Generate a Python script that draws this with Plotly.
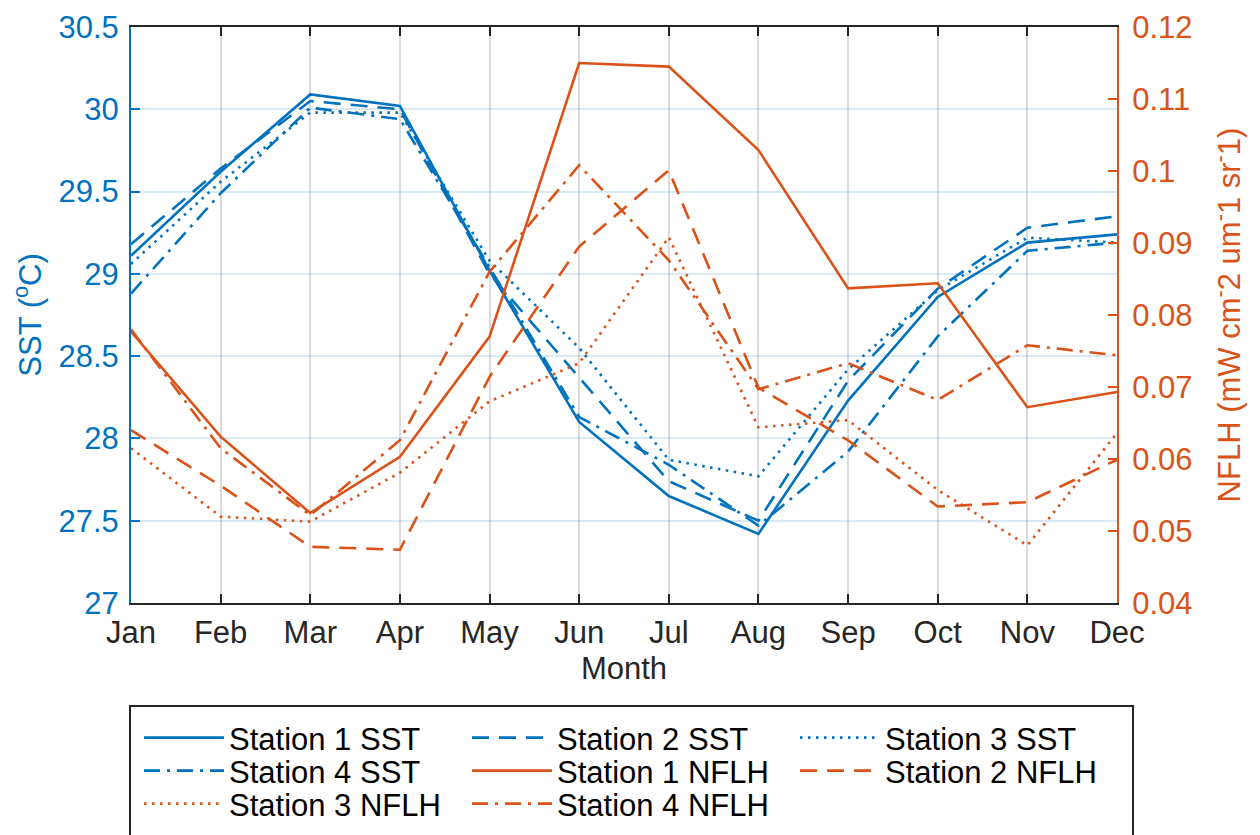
import plotly.graph_objects as go

months = ["Jan", "Feb", "Mar", "Apr", "May", "Jun", "Jul", "Aug", "Sep", "Oct", "Nov", "Dec"]

sst_s1 = [29.11, 29.62, 30.09, 30.02, 29.02, 28.10, 27.65, 27.42, 28.23, 28.86, 29.19, 29.24]
sst_s2 = [29.18, 29.64, 30.05, 30.00, 29.00, 28.37, 27.74, 27.50, 28.35, 28.91, 29.28, 29.35]
sst_s3 = [29.06, 29.56, 29.98, 29.98, 29.08, 28.55, 27.87, 27.77, 28.42, 28.90, 29.22, 29.19]
sst_s4 = [28.88, 29.49, 30.01, 29.94, 29.04, 28.13, 27.84, 27.47, 27.92, 28.62, 29.14, 29.19]

nflh_s1 = [0.0777, 0.0631, 0.0525, 0.0603, 0.0770, 0.1150, 0.1145, 0.1029, 0.0837, 0.0844, 0.0672, 0.0693]
nflh_s2 = [0.0640, 0.0563, 0.0478, 0.0474, 0.0714, 0.0895, 0.1001, 0.0699, 0.0626, 0.0534, 0.0540, 0.0599]
nflh_s3 = [0.0615, 0.0520, 0.0513, 0.0581, 0.0680, 0.0733, 0.0908, 0.0644, 0.0654, 0.0557, 0.0480, 0.0636]
nflh_s4 = [0.0780, 0.0615, 0.0522, 0.0626, 0.0860, 0.1008, 0.0876, 0.0697, 0.0733, 0.0682, 0.0758, 0.0744]

BLUE = "#0072BD"
ORANGE = "#D95319"
FONT = "Liberation Sans, Arial, Helvetica, sans-serif"
FS = 31

DASH = "17px,10px"
DOT = "2.5px,5.5px"
DASHDOT = "16px,7px,3px,7px"
W = 2.6

# legend rows (MATLAB-like 3-column layout, filled row-wise)
series = [
    ("Station 1 SST", sst_s1, BLUE, "solid", "y", "legend"),
    ("Station 2 SST", sst_s2, BLUE, DASH, "y", "legend"),
    ("Station 3 SST", sst_s3, BLUE, DOT, "y", "legend"),
    ("Station 4 SST", sst_s4, BLUE, DASHDOT, "y", "legend2"),
    ("Station 1 NFLH", nflh_s1, ORANGE, "solid", "y2", "legend2"),
    ("Station 2 NFLH", nflh_s2, ORANGE, DASH, "y2", "legend2"),
    ("Station 3 NFLH", nflh_s3, ORANGE, DOT, "y2", "legend3"),
    ("Station 4 NFLH", nflh_s4, ORANGE, DASHDOT, "y2", "legend3"),
]

fig = go.Figure()
for name, vals, col, dash, ax, lg in series:
    fig.add_trace(go.Scatter(
        x=months, y=vals, name=name, mode="lines", yaxis=ax, legend=lg,
        line=dict(color=col, width=W, dash=dash),
    ))

# page offset (body margin) compensation; figure runs past the window bottom
OFF = 8
EXTRA = 40
FIG_W, FIG_H = 1260 - OFF, 835 - OFF + EXTRA
PL, PR, PT, PB = 131, 1117, 27, 603          # plot area in page pixels
L, R, T, B = PL - OFF, 1260 - PR, PT - OFF, 835 - PB + EXTRA
PW, PH = PR - PL, PB - PT


def py(pix_y):
    return (PB - pix_y) / PH


def px(pix_x):
    return (pix_x - PL) / PW


legend_common = dict(
    orientation="h", xanchor="left", yanchor="middle",
    entrywidth=233, entrywidthmode="pixels", itemwidth=80,
    bgcolor="rgba(0,0,0,0)", borderwidth=0,
    font=dict(family=FONT, size=FS, color="black"),
)

fig.update_layout(
    width=FIG_W, height=FIG_H,
    margin=dict(l=L, r=R, t=T, b=B),
    paper_bgcolor="white", plot_bgcolor="white",
    font=dict(family=FONT, size=FS, color="#262626"),
    showlegend=True,
    legend=dict(x=px(139), y=py(738), **legend_common),
    legend2=dict(x=px(139), y=py(771), **legend_common),
    legend3=dict(x=px(139), y=py(804), **legend_common),
    xaxis=dict(
        title=dict(text="Month", standoff=8, font=dict(size=FS, color="#262626")),
        range=[0, 11], showline=True, linecolor="#262626", linewidth=2,
        mirror="ticks", ticks="inside", ticklen=9, tickwidth=2, tickcolor="#262626",
        showgrid=True, gridcolor="#dadada", gridwidth=2, zeroline=False,
        tickfont=dict(size=FS, color="#262626"), automargin=False,
        ticklabelstandoff=1,
    ),
    yaxis=dict(
        title=dict(text="SST (<sup>o</sup>C)", standoff=10, font=dict(size=FS, color=BLUE)),
        range=[27, 30.5], dtick=0.5, tick0=27,
        showline=True, linecolor=BLUE, linewidth=2,
        ticks="inside", ticklen=9, tickwidth=2, tickcolor=BLUE,
        showgrid=True, gridcolor="rgba(0,114,189,0.15)", gridwidth=2, zeroline=False,
        tickfont=dict(size=FS, color=BLUE), automargin=False,
        ticklabelstandoff=4,
    ),
    yaxis2=dict(
        title=dict(text="NFLH (mW cm<sup>-</sup>2 um<sup>-</sup>1 sr<sup>-</sup>1)", standoff=27,
                   font=dict(size=FS, color=ORANGE)),
        overlaying="y", side="right", range=[0.04, 0.12], dtick=0.01, tick0=0.04,
        showline=True, linecolor=ORANGE, linewidth=2,
        ticks="inside", ticklen=9, tickwidth=2, tickcolor=ORANGE,
        showgrid=False, zeroline=False,
        tickfont=dict(size=FS, color=ORANGE), automargin=False,
        ticklabelstandoff=7,
    ),
    shapes=[dict(
        type="rect", xref="paper", yref="paper",
        x0=px(130), x1=px(1133), y0=py(706), y1=py(850),
        line=dict(color="#262626", width=2), fillcolor="rgba(0,0,0,0)", layer="above",
    )],
)

fig.write_html("out.html")
